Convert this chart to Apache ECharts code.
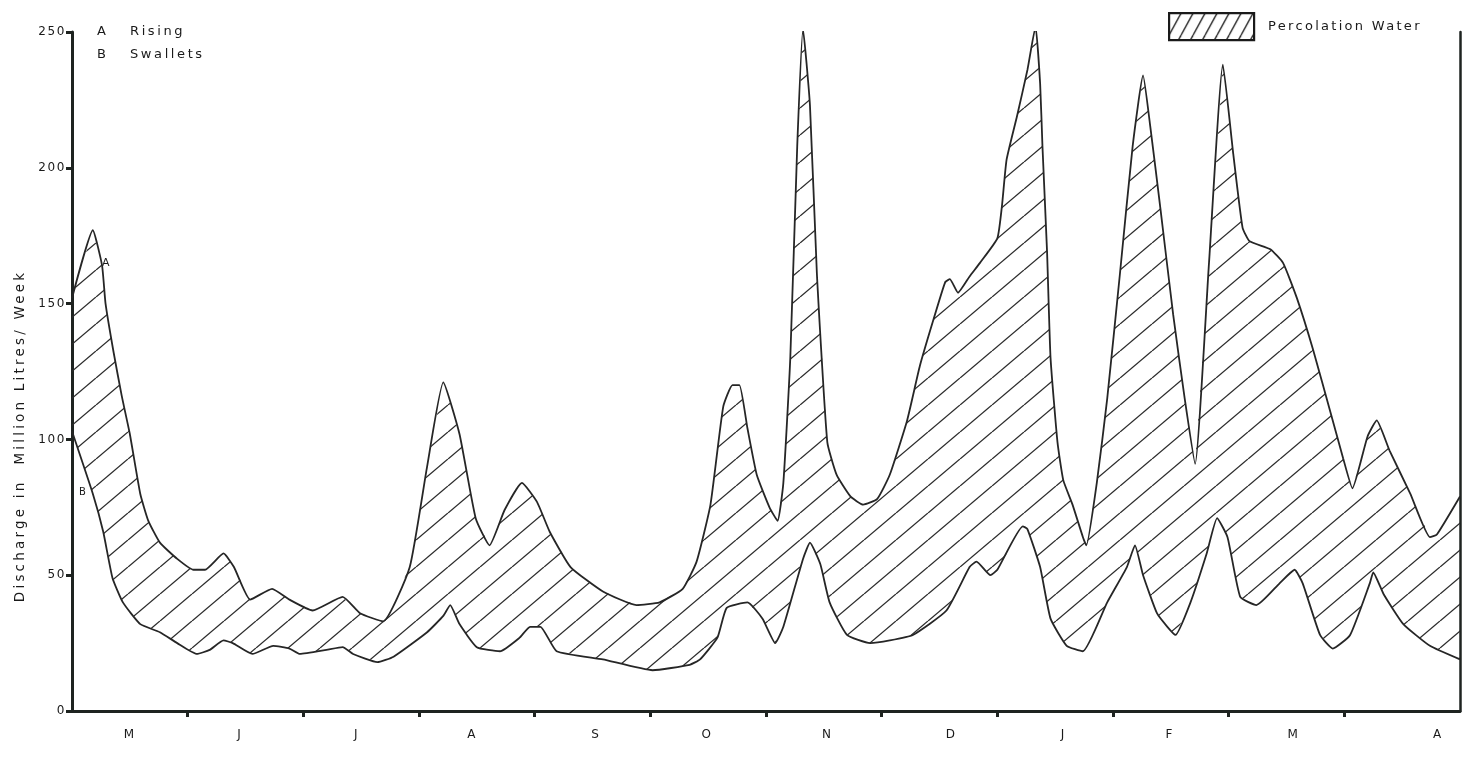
<!DOCTYPE html>
<html><head><meta charset="utf-8">
<script src="https://cdn.jsdelivr.net/npm/echarts@6/dist/echarts.min.js"></script>
<style>
html,body{margin:0;padding:0;background:#fff;}
#chart{width:1471px;height:757px;}
</style></head><body><div id="chart"></div>
<script>
// ---- data (x = months from start of May, y = million litres / week) ----
const monthLabels = ['M','J','J','A','S','O','N','D','J','F','M','A'];
const monthLabelPos = [0.50,1.45,2.46,3.46,4.53,5.49,6.53,7.60,8.57,9.49,10.56,11.81];
const yTicks = [0, 50, 100, 150, 200, 250];
const risingA = [
 [0.00,152],[0.18,177],[0.26,164],[0.29,150],[0.36,132],[0.43,116],[0.50,102],[0.59,80],[0.66,70],
 [0.76,62],[0.91,56],[1.05,52],[1.15,52],[1.31,58],[1.40,53],[1.54,41],[1.73,45],[1.88,41],
 [2.08,37],[2.34,42],[2.49,36],[2.69,33],[2.92,53],[3.07,90],[3.21,121],[3.35,102],[3.49,71],
 [3.61,61],[3.74,74],[3.89,84],[4.02,77],[4.13,66],[4.31,53],[4.59,44],[4.88,39],[5.08,40],
 [5.28,45],[5.40,55],[5.52,76],[5.63,112],[5.71,120],[5.77,120],[5.84,104],[5.92,87],[6.03,75],
 [6.10,70],[6.15,84],[6.21,130],[6.27,208],[6.32,251],[6.38,223],[6.44,161],[6.53,99],[6.61,87],
 [6.73,79],[6.84,76],[6.96,78],[7.07,87],[7.22,107],[7.33,127],[7.44,143],[7.55,158],[7.59,159],
 [7.66,154],[7.76,160],[7.85,165],[8.00,174],[8.04,186],[8.08,203],[8.17,219],[8.26,236],[8.33,252],
 [8.37,231],[8.39,208],[8.43,169],[8.46,130],[8.52,99],[8.57,85],[8.65,76],[8.74,64],[8.77,61],
 [8.86,84],[8.95,115],[9.06,161],[9.17,208],[9.26,234],[9.32,216],[9.41,185],[9.52,146],[9.62,115],
 [9.71,91],[9.83,165],[9.95,238],[10.04,205],[10.12,178],[10.18,173],[10.36,170],[10.47,165],
 [10.59,152],[10.73,133],[10.88,110],[10.99,93],[11.07,82],[11.20,101],[11.28,107],[11.39,96],
 [11.57,80],[11.74,64],[11.80,65],[12.00,79]
];
const swalletsB = [
 [0.00,103],[0.18,80],[0.27,66],[0.35,49],[0.44,40],[0.59,32],[0.76,29],[0.91,25],[1.08,21],
 [1.19,22.5],[1.31,26],[1.39,25],[1.56,21],[1.74,24],[1.88,23],[1.97,21],[2.20,22.5],[2.34,23.5],
 [2.43,21],[2.64,18],[2.78,20],[3.07,29],[3.21,35],[3.27,39],[3.35,32],[3.50,23.5],[3.70,22],
 [3.87,27],[3.96,31],[4.05,31],[4.19,22],[4.59,19],[5.02,15],[5.34,17],[5.43,19],[5.58,27],
 [5.66,38],[5.84,40],[5.97,34],[6.08,25],[6.15,31],[6.32,56],[6.38,62],[6.47,54],[6.55,40],
 [6.70,28],[6.90,25],[7.07,26],[7.27,28],[7.56,37],[7.76,53],[7.82,55],[7.94,50],[8.00,52],
 [8.22,68],[8.26,67],[8.37,53],[8.46,34],[8.60,24],[8.74,22],[8.95,40],[9.12,53],[9.19,61],
 [9.26,50],[9.38,36],[9.47,31],[9.54,28],[9.67,40],[9.81,58],[9.90,71],[9.99,64],[10.10,42],
 [10.24,39],[10.44,47],[10.57,52],[10.64,47],[10.79,28],[10.90,23],[11.05,28],[11.22,47],
 [11.25,51],[11.34,43],[11.51,32],[11.74,24],[12.00,19]
];
const yTitle = 'Discharge in  Million Litres/ Week';
const legendName = 'Percolation Water';

// ---- letter spacing for the typewriter-like lettering ----
const spacing = { [yTitle]: '3.2px', [legendName]: '2.3px', 'Rising': '2.6px', 'Swallets': '2.6px' };
const _fillText = CanvasRenderingContext2D.prototype.fillText;
CanvasRenderingContext2D.prototype.fillText = function (t, x, y, m) {
  try { this.letterSpacing = spacing[t] || '1.6px'; } catch (e) {}
  return m === undefined ? _fillText.call(this, t, x, y) : _fillText.call(this, t, x, y, m);
};

function hatch(w, h, lw, color) {
  const c = document.createElement('canvas');
  c.width = w; c.height = h;
  const ctx = c.getContext('2d');
  ctx.strokeStyle = color; ctx.lineWidth = lw;
  for (const dx of [-w, 0, w]) {
    ctx.beginPath(); ctx.moveTo(dx, h); ctx.lineTo(dx + w, 0); ctx.stroke();
  }
  return { image: c, repeat: 'repeat' };
}
const areaHatch = hatch(32, 27, 1.3, '#2a2a2a');
const legendHatch = hatch(12, 22, 1.4, '#2a2a2a');

const ink = '#1e2320';
const chart = echarts.init(document.getElementById('chart'), null, { renderer: 'canvas' });
const seq = n => Array.from({ length: n }, (_, i) => i);

chart.setOption({
  animation: false,
  backgroundColor: '#fff',
  textStyle: { fontFamily: 'DejaVu Sans', color: '#1a1a1a' },
  grid: { left: 72, right: 11, top: 32, bottom: 46 },
  legend: {
    left: 1168, top: 12, padding: 0, itemWidth: 85, itemHeight: 27, selectedMode: false,
    textStyle: { fontSize: 13, color: '#1a1a1a', padding: [0, 0, 0, 9] },
    data: [{ name: legendName, icon: 'rect',
      itemStyle: { color: legendHatch, borderColor: '#1a1a1a', borderWidth: 2.2 } }]
  },
  xAxis: {
    type: 'value', min: 0, max: monthLabels.length,
    axisLine: { lineStyle: { color: ink, width: 3 } },
    axisTick: { customValues: seq(monthLabels.length - 1).map(i => i + 1), length: 6,
      lineStyle: { color: ink, width: 3 } },
    axisLabel: { customValues: monthLabelPos,
      formatter: v => monthLabels[monthLabelPos.indexOf(v)], margin: 18, fontSize: 12, color: '#1a1a1a' },
    splitLine: { show: false }
  },
  yAxis: [{
    type: 'value', min: yTicks[0], max: yTicks[yTicks.length - 1], interval: yTicks[1] - yTicks[0],
    axisLine: { show: true, lineStyle: { color: ink, width: 3 } },
    axisTick: { show: true, length: 6, lineStyle: { color: ink, width: 3 } },
    axisLabel: { fontSize: 12, margin: 6, color: '#1a1a1a' },
    splitLine: { show: false }
  }, {
    type: 'value', position: 'right', min: yTicks[0], max: yTicks[yTicks.length - 1],
    axisLine: { show: true, lineStyle: { color: ink, width: 2.5 } },
    axisTick: { show: false }, axisLabel: { show: false }, splitLine: { show: false }
  }],
  graphic: [
    { type: 'text', x: 97, y: 32, style: { text: 'A', font: '13px DejaVu Sans', fill: '#1a1a1a', textVerticalAlign: 'middle' } },
    { type: 'text', x: 130, y: 32, style: { text: 'Rising', font: '13px DejaVu Sans', fill: '#1a1a1a', textVerticalAlign: 'middle' } },
    { type: 'text', x: 97, y: 55, style: { text: 'B', font: '13px DejaVu Sans', fill: '#1a1a1a', textVerticalAlign: 'middle' } },
    { type: 'text', x: 130, y: 55, style: { text: 'Swallets', font: '13px DejaVu Sans', fill: '#1a1a1a', textVerticalAlign: 'middle' } },
    { type: 'text', x: 102, y: 263, style: { text: 'A', font: '11px DejaVu Sans', fill: '#1a1a1a', textVerticalAlign: 'middle' } },
    { type: 'text', x: 79, y: 492, style: { text: 'B', font: '10px DejaVu Sans', fill: '#1a1a1a', textVerticalAlign: 'middle' } },
    { type: 'text', x: 20, y: 436, rotation: Math.PI / 2,
      style: { text: yTitle, font: '13.5px DejaVu Sans', fill: '#1a1a1a',
        textAlign: 'center', textVerticalAlign: 'middle' } }
  ],
  series: [{
    name: legendName, type: 'custom', z: 1,
    data: [[6, 100]],
    renderItem: function (params, api) {
      const pts = risingA.map(p => api.coord(p))
        .concat(swalletsB.slice().reverse().map(p => api.coord(p)));
      return { type: 'polygon', shape: { points: pts }, style: { fill: areaHatch, stroke: null } };
    }
  }, {
    name: 'A Rising', type: 'line', z: 3, data: risingA, showSymbol: false, smooth: 0.15,
    lineStyle: { color: '#262626', width: 1.8 }
  }, {
    name: 'B Swallets', type: 'line', z: 3, data: swalletsB, showSymbol: false, smooth: 0.15,
    lineStyle: { color: '#262626', width: 1.8 }
  }]
});
</script></body></html>
